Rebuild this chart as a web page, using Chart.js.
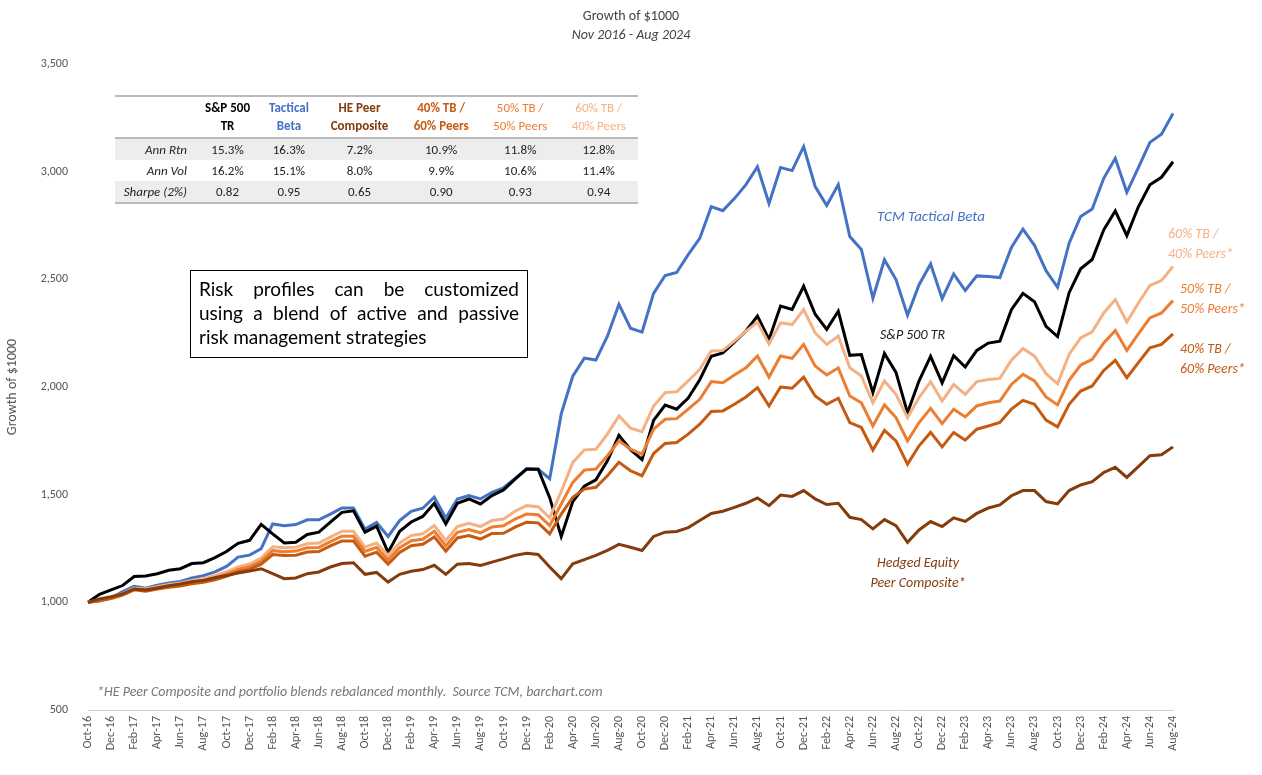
<!DOCTYPE html>
<html>
<head>
<meta charset="utf-8">
<script src="https://cdn.jsdelivr.net/npm/chart.js@4"></script>
<style>
  body { margin: 0; background: #fff; font-family: Calibri, Carlito, "Open Sans", sans-serif; }
  #wrap { position: relative; width: 1262px; height: 775px; }
  canvas { position: absolute; left: 0; top: 0; }
  .t { position: absolute; white-space: nowrap; }
  .it { font-style: italic; }
  table { position: absolute; left: 115px; top: 95px; width: 523px; border-collapse: collapse; font-size: 13px; color: #222; }
  table td { text-align: center; padding: 0; height: 21px; }
  table tr.h td { font-weight: bold; line-height: 18px; height: 40px; }
  table tr.g td { background: #ededed; }
  table td.lab { text-align: right; font-style: italic; padding-right: 8px; width: 72px; }
  #box { position: absolute; left: 190px; top: 270px; width: 338px; height: 88px; border: 1.5px solid #000; box-sizing: border-box;
         font-family: Lato, "DejaVu Sans", sans-serif; font-size: 19px; line-height: 24px; padding: 6px 8px; }
  #box div { text-align: justify; text-align-last: justify; }
  #box div.last { text-align-last: left; }
</style>
</head>
<body>
<div id="wrap">
<canvas id="growthChart" width="1262" height="775"></canvas>

<div class="t" style="left:0;width:1262px;text-align:center;top:7px;font-size:14px;color:#444;">Growth of $1000</div>
<div class="t it" style="left:0;width:1262px;text-align:center;top:26px;font-size:14px;color:#444;">Nov 2016 - Aug 2024</div>

<table>
  <tr class="h" style="border-top:2px solid #bbb;border-bottom:2px solid #bbb;">
    <td></td>
    <td style="color:#000">S&amp;P 500<br>TR</td>
    <td style="color:#4472c4">Tactical<br>Beta</td>
    <td style="color:#843c0c">HE Peer<br>Composite</td>
    <td style="color:#c55a11">40% TB /<br>60% Peers</td>
    <td style="color:#ed7d31;font-weight:normal">50% TB /<br>50% Peers</td>
    <td style="color:#f4b183;font-weight:normal">60% TB /<br>40% Peers</td>
  </tr>
  <tr class="g"><td class="lab">Ann Rtn</td><td>15.3%</td><td>16.3%</td><td>7.2%</td><td>10.9%</td><td>11.8%</td><td>12.8%</td></tr>
  <tr><td class="lab">Ann Vol</td><td>16.2%</td><td>15.1%</td><td>8.0%</td><td>9.9%</td><td>10.6%</td><td>11.4%</td></tr>
  <tr class="g" style="border-bottom:2px solid #bbb;"><td class="lab">Sharpe (2%)</td><td>0.82</td><td>0.95</td><td>0.65</td><td>0.90</td><td>0.93</td><td>0.94</td></tr>
</table>

<div id="box"><div>Risk profiles can be customized</div><div>using a blend of active and passive</div><div class="last">risk management strategies</div></div>

<div class="t it" style="left:877px;top:207px;font-size:15px;color:#4472c4;">TCM Tactical Beta</div>
<div class="t it" style="left:880px;top:326px;font-size:14px;color:#222;">S&amp;P 500 TR</div>
<div class="t it" style="left:1168px;top:224px;font-size:14px;line-height:20px;color:#f4b183;">60% TB /<br>40% Peers*</div>
<div class="t it" style="left:1180px;top:279px;font-size:14px;line-height:20px;color:#ed7d31;">50% TB /<br>50% Peers*</div>
<div class="t it" style="left:1180px;top:339px;font-size:14px;line-height:20px;color:#c55a11;">40% TB /<br>60% Peers*</div>
<div class="t it" style="left:838px;top:553px;width:160px;text-align:center;font-size:14px;line-height:20px;color:#843c0c;">Hedged Equity<br>Peer Composite*</div>
<div class="t it" style="left:97px;top:683px;font-size:14px;color:#777;">*HE Peer Composite and portfolio blends rebalanced monthly.&nbsp; Source TCM, barchart.com</div>
</div>

<script>
const months = ['Oct-16','Nov-16','Dec-16',
  'Jan-17','Feb-17','Mar-17','Apr-17','May-17','Jun-17','Jul-17','Aug-17','Sep-17','Oct-17','Nov-17','Dec-17',
  'Jan-18','Feb-18','Mar-18','Apr-18','May-18','Jun-18','Jul-18','Aug-18','Sep-18','Oct-18','Nov-18','Dec-18',
  'Jan-19','Feb-19','Mar-19','Apr-19','May-19','Jun-19','Jul-19','Aug-19','Sep-19','Oct-19','Nov-19','Dec-19',
  'Jan-20','Feb-20','Mar-20','Apr-20','May-20','Jun-20','Jul-20','Aug-20','Sep-20','Oct-20','Nov-20','Dec-20',
  'Jan-21','Feb-21','Mar-21','Apr-21','May-21','Jun-21','Jul-21','Aug-21','Sep-21','Oct-21','Nov-21','Dec-21',
  'Jan-22','Feb-22','Mar-22','Apr-22','May-22','Jun-22','Jul-22','Aug-22','Sep-22','Oct-22','Nov-22','Dec-22',
  'Jan-23','Feb-23','Mar-23','Apr-23','May-23','Jun-23','Jul-23','Aug-23','Sep-23','Oct-23','Nov-23','Dec-23',
  'Jan-24','Feb-24','Mar-24','Apr-24','May-24','Jun-24','Jul-24','Aug-24'];

const sp500 = [1000,1037,1058,1078,1120,1122,1133,1149,1156,1180,1184,1208,1236,1274,1288,1362,1318,1276,1279,1315,1326,1372,1418,1425,1326,1354,1232,1330,1373,1399,1460,1364,1460,1480,1457,1496,1522,
  1572,1619,1618,1486,1306,1468,1539,1569,1657,1776,1709,1663,1845,1916,1897,1949,2034,2143,2158,2208,2260,2329,2221,2376,2360,2468,2338,2268,2352,2147,2151,1974,2156,2068,
  1880,2029,2142,2019,2146,2093,2170,2204,2213,2359,2435,2396,2282,2234,2438,2549,2592,2730,2818,2703,2837,2939,2974,3046];

const tacticalBeta = [1000,1006,1020,1050,1074,1066,1079,1090,1097,1113,1124,1141,1167,1210,1219,1249,1364,1356,1361,1383,1383,1410,1438,1438,1340,1371,1306,1380,1423,1437,1488,1392,1480,1496,1480,1511,1532,
  1575,1620,1618,1574,1875,2050,2134,2125,2236,2384,2273,2255,2435,2518,2532,2615,2690,2838,2819,2875,2940,3023,2852,3019,3005,3116,2931,2843,2940,2699,2639,2412,2591,2499,
  2333,2475,2571,2410,2525,2448,2516,2513,2508,2648,2733,2658,2540,2463,2668,2792,2827,2969,3062,2904,3019,3136,3174,3270];

const hePeers = [1000,1016,1026,1039,1062,1057,1067,1077,1085,1096,1102,1114,1125,1136,1145,1156,1133,1110,1113,1133,1141,1164,1180,1184,1130,1139,1094,1130,1144,1152,1172,1130,1177,1180,1171,1187,1202,
  1218,1228,1222,1164,1110,1179,1198,1218,1241,1269,1256,1241,1306,1326,1329,1347,1380,1413,1423,1441,1460,1485,1449,1498,1492,1519,1480,1454,1460,1395,1384,1341,1384,1356,
  1279,1336,1375,1352,1392,1376,1413,1438,1452,1495,1519,1519,1468,1457,1519,1545,1560,1603,1627,1580,1630,1681,1685,1722];

const blend40 = [1000,1008,1018,1034,1058,1052,1062,1070,1076,1086,1093,1105,1121,1142,1153,1177,1222,1217,1219,1234,1236,1262,1285,1285,1214,1233,1178,1232,1263,1270,1304,1238,1299,1310,1294,1320,1321,
  1349,1372,1369,1318,1410,1488,1526,1534,1588,1650,1611,1588,1691,1738,1742,1781,1827,1886,1889,1920,1954,1997,1912,2000,1994,2046,1958,1920,1948,1835,1812,1707,1799,1750,
  1642,1727,1789,1722,1789,1753,1804,1819,1835,1897,1938,1920,1846,1815,1920,1981,2005,2077,2124,2043,2113,2182,2198,2247];

const blend50 = [1000,1010,1021,1037,1062,1057,1067,1076,1082,1094,1101,1114,1131,1153,1165,1190,1240,1235,1238,1253,1255,1282,1307,1307,1236,1255,1198,1254,1286,1293,1330,1262,1325,1338,1323,1350,1356,
  1387,1410,1407,1356,1457,1557,1614,1619,1681,1750,1711,1688,1804,1850,1853,1897,1943,2025,2020,2056,2089,2144,2046,2144,2133,2198,2097,2056,2089,1958,1927,1819,1917,1858,
  1750,1835,1901,1830,1897,1861,1912,1927,1935,2012,2059,2028,1954,1917,2031,2102,2128,2205,2262,2170,2247,2321,2344,2401];

const blend60 = [1000,1012,1024,1040,1066,1062,1073,1083,1090,1102,1110,1124,1142,1165,1178,1205,1258,1253,1256,1272,1275,1303,1330,1330,1256,1276,1218,1276,1310,1318,1357,1287,1352,1367,1352,1380,1387,
  1423,1449,1444,1392,1515,1650,1708,1711,1781,1866,1809,1793,1912,1974,1978,2028,2082,2167,2170,2213,2259,2301,2200,2298,2290,2360,2251,2198,2236,2089,2051,1927,2028,1966,
  1858,1951,2025,1935,2012,1966,2025,2035,2040,2124,2179,2144,2062,2015,2151,2228,2256,2344,2406,2302,2390,2472,2494,2560];

function line(label, data, color) {
    return { label, data, borderColor: color, backgroundColor: color, borderWidth: 3, pointRadius: 0, tension: 0 };
}

const font = 'Calibri, Carlito, "Open Sans", sans-serif';
const ctx = document.getElementById('growthChart').getContext('2d');
new Chart(ctx, {
    type: 'line',
    data: {
        labels: months,
        datasets: [
            line('HE Peer Composite', hePeers, '#843c0c'),
            line('40% TB / 60% Peers', blend40, '#c55a11'),
            line('50% TB / 50% Peers', blend50, '#ed7d31'),
            line('60% TB / 40% Peers', blend60, '#f4b183'),
            line('S&P 500 TR', sp500, '#000000'),
            line('Tactical Beta', tacticalBeta, '#4472c4')
        ]
    },
    options: {
        responsive: false,
        animation: false,
        layout: { padding: { top: 64, right: 89, left: 0, bottom: 0 } },
        plugins: { legend: { display: false }, tooltip: { enabled: false } },
        scales: {
            x: {
                offset: false,
                grid: { display: false, drawTicks: false },
                border: { color: '#d0d0d0', width: 1 },
                afterFit: s => { s.height = 65; },
                ticks: {
                    autoSkip: false, maxRotation: 90, minRotation: 90, padding: 6,
                    color: '#555', font: { size: 12, family: font },
                    callback: function (v, i) { return i % 2 === 0 ? this.getLabelForValue(v) : ''; }
                }
            },
            y: {
                min: 500, max: 3500,
                grid: { display: false, drawTicks: false },
                border: { display: false },
                afterFit: s => { s.width = 88; },
                title: { display: true, text: 'Growth of $1000', color: '#555', font: { size: 14, family: font } },
                ticks: {
                    stepSize: 500, padding: 20, color: '#555',
                    font: { size: 12, family: font },
                    callback: v => v.toLocaleString('en-US')
                }
            }
        }
    }
});
</script>
</body>
</html>
